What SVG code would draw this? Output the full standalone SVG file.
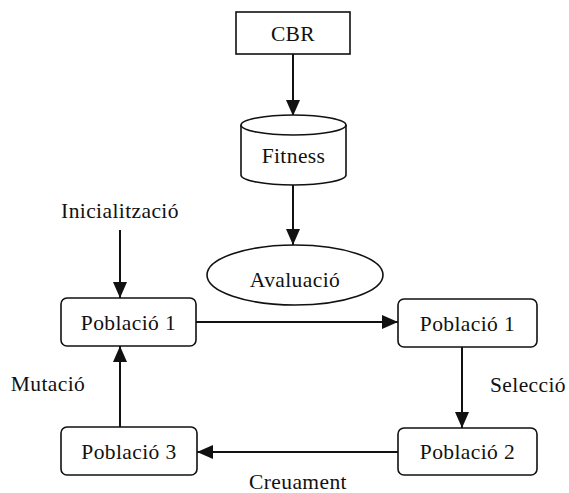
<svg xmlns="http://www.w3.org/2000/svg" width="569" height="493" viewBox="0 0 569 493">
<defs>
<marker id="ah" viewBox="0 0 16 14" refX="16" refY="7" markerWidth="16" markerHeight="14" markerUnits="userSpaceOnUse" orient="auto">
<path d="M0,0 L16,7 L0,14 Z" fill="#111"/>
</marker>
<style>
.t{font-family:"Liberation Serif","Times New Roman",serif;font-size:21.5px;letter-spacing:0.4px;fill:#111;text-anchor:middle}
.b{fill:#fff;stroke:#111;stroke-width:1.6}
.c{stroke:#111;stroke-width:2;fill:none;marker-end:url(#ah)}
</style>
</defs>
<rect width="569" height="493" fill="#fff"/>
<g id="connectors">
<line class="c" x1="293" y1="54" x2="293" y2="116"/>
<line class="c" x1="293" y1="185" x2="293" y2="245"/>
<line class="c" x1="120" y1="230" x2="120" y2="298"/>
<line class="c" x1="196" y1="322" x2="398" y2="322"/>
<line class="c" x1="462" y1="347" x2="462" y2="428"/>
<line class="c" x1="398" y1="452" x2="197" y2="452"/>
<line class="c" x1="120" y1="427" x2="120" y2="346"/>
</g>
<g id="cbr">
<rect class="b" x="236" y="12" width="114" height="42"/>
<text class="t" x="293" y="41">CBR</text>
</g>
<g id="fitness">
<path class="b" d="M241,125 L241,175 A52.5,10 0 0 0 346,175 L346,125"/>
<ellipse class="b" cx="293.5" cy="125" rx="52.5" ry="10"/>
<text class="t" x="293.5" y="163">Fitness</text>
</g>
<g id="avaluacio">
<ellipse class="b" cx="295" cy="275" rx="88" ry="30"/>
<text class="t" x="295" y="287">Avaluació</text>
</g>
<g id="inicialitzacio">
<text class="t" x="120" y="218">Inicialització</text>
</g>
<g id="poblacio1a">
<rect class="b" x="61" y="298" width="135" height="48" rx="6"/>
<text class="t" x="128.5" y="330">Població 1</text>
</g>
<g id="poblacio1b">
<rect class="b" x="398" y="299" width="139" height="48" rx="6"/>
<text class="t" x="467.5" y="331">Població 1</text>
</g>
<g id="poblacio2">
<rect class="b" x="398" y="428" width="139" height="47" rx="6"/>
<text class="t" x="467.5" y="459">Població 2</text>
</g>
<g id="poblacio3">
<rect class="b" x="61" y="427" width="136" height="48" rx="6"/>
<text class="t" x="129" y="459">Població 3</text>
</g>
<g id="labels">
<text class="t" x="528" y="392">Selecció</text>
<text class="t" x="48" y="391">Mutació</text>
<text class="t" x="298" y="489">Creuament</text>
</g>
</svg>
